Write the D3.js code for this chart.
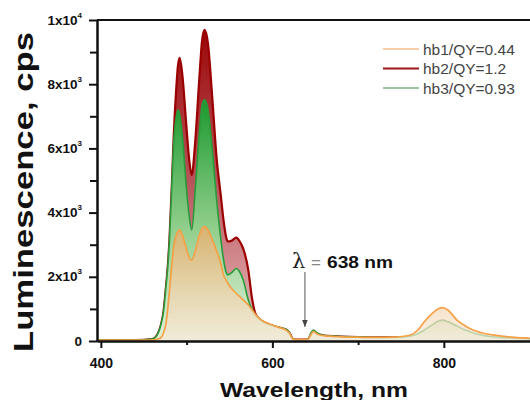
<!DOCTYPE html>
<html><head><meta charset="utf-8">
<script src="https://cdn.jsdelivr.net/npm/d3@7"></script>
<style>
html,body{margin:0;padding:0;background:#fff;}
svg{display:block;font-family:"Liberation Sans",Arial,sans-serif;}
</style></head>
<body>
<svg id="chart" width="530" height="400"></svg>
<script>
// ---- data ----
const wavelengths = [396,440,460,466,470,473,476,478,480,483,485,488,490,492,495,500,503,506,510,515,518,521,525,530,535,540,543,546,548,552,558,562,566,572,576,580,585,590,600,610,616,620,624,630,638,642,645,648,652,658,665,680,700,720,740,760,770,776,785,792,798,805,815,825,834,845,857,875,900];
const hb2 = [30,30,60,200,500,900,1700,2300,3150,5000,6400,7900,8600,8820,8300,6600,5650,5170,6200,8250,9350,9690,9250,7550,5700,4500,3770,3250,3100,3120,3220,3100,2880,2200,1380,870,680,590,480,400,360,250,60,40,40,60,200,300,230,180,160,140,120,110,110,130,170,230,330,410,450,420,320,230,170,120,100,80,60];
const hb3 = [30,30,60,200,500,900,1700,2300,3150,5000,6200,7000,7200,7050,6400,4700,3900,3460,4700,6550,7350,7520,7200,5950,4400,3150,2550,2150,2060,2120,2260,2150,1900,1280,1000,820,680,590,480,410,370,260,60,40,40,60,250,340,260,190,160,140,120,110,110,150,230,320,480,600,650,600,470,340,250,180,130,100,70];
const hb1 = [30,30,30,60,100,250,550,1000,1550,2450,2950,3300,3420,3460,3300,2850,2600,2520,2800,3300,3500,3560,3450,3150,2800,2400,2050,1900,1800,1650,1480,1380,1280,1120,980,840,700,610,500,400,340,240,60,40,40,60,200,290,220,170,150,130,120,110,120,180,350,560,820,980,1040,960,660,470,340,250,190,130,90];
const seriesNames = ["hb1/QY=0.44","hb2/QY=1.2","hb3/QY=0.93"];
const xMajorTicks = [400,600,800];
const xMinorTicks = [500,700];
const yMajorTicks = [0,2000,4000,6000,8000,10000];
const yMinorTicks = [1000,3000,5000,7000,9000];
const yTickMantissa = ["0","2","4","6","8","1"];
const yTickExp = ["","3","3","3","3","4"];

const svg = d3.select("#chart");
const x = d3.scaleLinear().domain([395.5,900]).range([97,529.6]);
const y = d3.scaleLinear().domain([0,10000]).range([341,20]);

// gradients
const defs = svg.append("defs");
function grad(id, y1, y2, stops){
  const g = defs.append("linearGradient").attr("id",id).attr("gradientUnits","userSpaceOnUse")
    .attr("x1",0).attr("x2",0).attr("y1",y1).attr("y2",y2);
  stops.forEach(s=>g.append("stop").attr("offset",s[0]).attr("stop-color",s[1]));
}
grad("gRed",25,341,[[0,"#9b0505"],[0.5,"#b9545c"],[1,"#ecc2c2"]]);
grad("gGreen",95,341,[[0,"#16972a"],[0.55,"#93cf8e"],[1,"#e2f1da"]]);
grad("gOrange",220,341,[[0,"#f2a35e"],[0.55,"#f4cfa6"],[1,"#f6eada"]]);

const series = [
  {vals:hb2, fill:"url(#gRed)", stroke:"#9b0000", sw:2.2, fo:1},
  {vals:hb3, fill:"url(#gGreen)", stroke:"#2a9a3a", sw:1.6, fo:1},
  {vals:hb1, fill:"url(#gOrange)", stroke:"#f6a047", sw:1.7, fo:0.72}
];
const area = d3.area().curve(d3.curveMonotoneX).x((d,i)=>x(wavelengths[i])).y0(y(0)).y1(d=>y(d));
const line = d3.line().curve(d3.curveMonotoneX).x((d,i)=>x(wavelengths[i])).y(d=>y(d));
const plot = svg.append("g");
series.forEach(s=>{
  plot.append("path").attr("d",area(s.vals)).attr("fill",s.fill).attr("fill-opacity",s.fo);
  plot.append("path").attr("d",line(s.vals)).attr("fill","none").attr("stroke",s.stroke).attr("stroke-width",s.sw).attr("stroke-linejoin","round");
});

// axes
const axColor = "#111";
const gx = svg.append("g").attr("transform","translate(0,341)")
  .call(d3.axisBottom(x).tickValues(xMajorTicks).tickSize(7).tickSizeOuter(0).tickPadding(10).tickFormat(d3.format("d")));
svg.append("g").attr("transform","translate(0,341)")
  .call(d3.axisBottom(x).tickValues(xMinorTicks).tickSize(4).tickSizeOuter(0).tickFormat(""));
const gy = svg.append("g").attr("transform","translate(97,0)")
  .call(d3.axisLeft(y).tickValues(yMajorTicks).tickSize(8).tickSizeOuter(0).tickPadding(14).tickFormat(""));
svg.append("g").attr("transform","translate(97,0)")
  .call(d3.axisLeft(y).tickValues(yMinorTicks).tickSize(7).tickSizeOuter(0).tickFormat(""));
svg.selectAll(".domain").attr("stroke",axColor).attr("stroke-width",2);
svg.selectAll(".tick line").attr("stroke",axColor).attr("stroke-width",2);
gx.selectAll("text").attr("font-size",14).attr("font-weight","bold").attr("fill","#111")
  .attr("font-family","Liberation Sans, Arial, sans-serif");

// y tick labels with superscripts
gy.selectAll(".tick").each(function(d){
  const i = yMajorTicks.indexOf(d);
  const t = d3.select(this).append("text").attr("x",-15).attr("y",4)
    .attr("text-anchor","end").attr("fill","#111").attr("font-size",13.5).attr("font-weight","bold")
    .attr("font-family","Liberation Sans, Arial, sans-serif");
  if(yTickExp[i]===""){ t.text(yTickMantissa[i]); }
  else {
    t.append("tspan").text(yTickMantissa[i]+"x10");
    t.append("tspan").attr("font-size",8).attr("dy",-7).text(yTickExp[i]);
  }
});
// top border
svg.append("line").attr("x1",97).attr("x2",530).attr("y1",20).attr("y2",20).attr("stroke",axColor).attr("stroke-width",2);

// axis titles
svg.append("text").attr("transform","translate(33,192) rotate(-90)").attr("text-anchor","middle")
  .attr("font-size",28).attr("font-weight","bold").attr("fill","#111")
  .attr("textLength",320).attr("lengthAdjust","spacingAndGlyphs").text("Luminescence, cps");
svg.append("text").attr("x",314).attr("y",396.5).attr("text-anchor","middle")
  .attr("font-size",21).attr("font-weight","bold").attr("fill","#111")
  .attr("textLength",188).attr("lengthAdjust","spacingAndGlyphs").text("Wavelength, nm");

// legend
const legColors = ["#f7cdaa","#a01515","#96c99e"];
const legY = [49,68.5,88];
seriesNames.forEach((n,i)=>{
  svg.append("line").attr("x1",383).attr("x2",419).attr("y1",legY[i]).attr("y2",legY[i])
    .attr("stroke",legColors[i]).attr("stroke-width",2);
  svg.append("text").attr("x",423).attr("y",legY[i]+5.5).attr("font-size",15.5).attr("fill","#444").text(n);
});

// annotation
svg.append("text").attr("x",292).attr("y",267.5).attr("font-size",21).attr("fill","#222")
  .attr("font-family","DejaVu Serif, serif").text("λ");
svg.append("text").attr("x",311).attr("y",267.5).attr("font-size",17).attr("fill","#888").text("=");
svg.append("text").attr("x",327).attr("y",267.5).attr("font-size",16).attr("font-weight","bold").attr("fill","#111")
  .attr("textLength",66).attr("lengthAdjust","spacingAndGlyphs").text("638 nm");
defs.append("marker").attr("id","arr").attr("viewBox","0 0 10 10").attr("refX",10).attr("refY",5)
  .attr("markerWidth",7).attr("markerHeight",7).attr("orient","auto")
  .append("path").attr("d","M0,1 L10,5 L0,9 Z").attr("fill","#444");
svg.append("line").attr("x1",x(638)).attr("x2",x(638)).attr("y1",272).attr("y2",327)
  .attr("stroke","#555").attr("stroke-width",1).attr("marker-end","url(#arr)");
</script>
</body></html>
